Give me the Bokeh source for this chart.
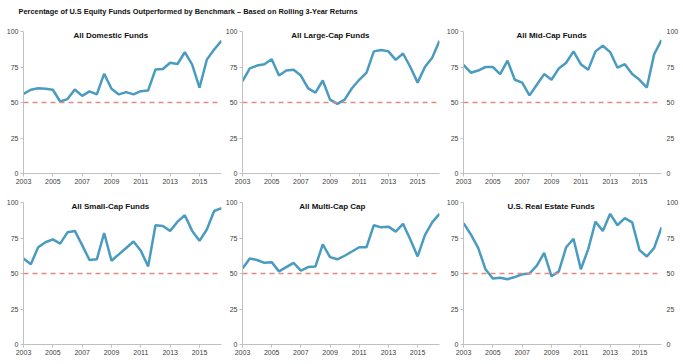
from bokeh.plotting import figure
from bokeh.layouts import column, row
from bokeh.models import Range1d, FixedTicker, Span, Label, LinearAxis
from bokeh.embed import file_html
from bokeh.resources import INLINE

main_title = "Percentage of U.S Equity Funds Outperformed by Benchmark \u2013 Based on Rolling 3-Year Returns"

periods = [2003.0, 2003.5, 2004.0, 2004.5, 2005.0, 2005.5, 2006.0, 2006.5,
           2007.0, 2007.5, 2008.0, 2008.5, 2009.0, 2009.5, 2010.0, 2010.5,
           2011.0, 2011.5, 2012.0, 2012.5, 2013.0, 2013.5, 2014.0, 2014.5,
           2015.0, 2015.5, 2016.0, 2016.5]

domestic = [56, 59, 60, 59.7, 59, 50.7, 52.4, 59.2, 54.7, 57.8, 55.7, 70.3,
            59.7, 55.7, 57.3, 55.7, 58, 58.5, 73.3, 73.6, 78, 77.1, 85.4, 76.7,
            60.4, 80.2, 87.3, 93.4]
large_cap = [65, 74, 76, 77, 80.5, 69, 72.5, 73, 69, 60, 57, 65.5,
             52, 49, 52, 60, 66, 71, 86, 87, 86, 80, 84.5, 75,
             64, 75, 81.5, 93.5]
mid_cap = [76.5, 71, 72.5, 75, 75, 70, 79.5, 66, 64, 55, 62.5, 70,
           66, 74, 78, 86, 77, 73, 86, 90, 85.5, 74.5, 77, 70,
           66, 60.5, 84, 94]
small_cap = [60.5, 56.5, 68.5, 72, 74, 71, 79, 80, 70, 59.5, 60, 78.5,
             59, 63.5, 68, 72.5, 66, 55, 84, 83.5, 80, 86.5, 91, 80,
             73, 81, 94, 96]
multi_cap = [53.5, 60.5, 59.5, 57.5, 58, 51.5, 54.5, 57.5, 52, 54.5, 55, 70.5,
             61.5, 60, 62.5, 65.5, 68.5, 68.5, 84, 82.5, 83, 79.5, 85, 74,
             62, 77, 86, 92]
real_estate = [85.5, 77.5, 68, 53, 46.5, 47, 46, 47.5, 49.5, 50, 55.5, 64.5,
               48, 51.5, 68.5, 74.5, 53, 67, 86.5, 80, 92, 84, 89, 86,
               66.5, 62, 68, 82.5]

panel_titles = ["All Domestic Funds", "All Large-Cap Funds", "All Mid-Cap Funds",
                "All Small-Cap Funds", "All Multi-Cap Cap", "U.S. Real Estate Funds"]
series = [domestic, large_cap, mid_cap, small_cap, multi_cap, real_estate]

y_ticks = [0, 25, 50, 75, 100]
x_ticks = [2003, 2005, 2007, 2009, 2011, 2013, 2015]
benchmark = 50

FONT = "Liberation Sans"
LINE_COLOR = "#4a9bc0"
DASH_COLOR = "#e08a86"
AXIS_COLOR = "#c0c0c0"
LABEL_COLOR = "#404040"

# layout constants
fig_widths = [222, 221, 238]
borders_lr = [(23, 1), (19, 4), (20, 20)]
title_offsets_px = [50, 49, 53, 48, 57, 44]
FRAME_W = 198
row_heights = [169, 174]
row_borders_tb = [(11, 16), (13, 19)]


def make_panel(i):
    r, c = divmod(i, 3)
    bl, br = borders_lr[c]
    bt, bb = row_borders_tb[r]
    p = figure(width=fig_widths[c], height=row_heights[r], output_backend="svg",
               toolbar_location=None, x_range=Range1d(periods[0], periods[-1]),
               y_range=Range1d(0, 100), min_border_left=bl, min_border_right=br,
               min_border_top=bt, min_border_bottom=bb)
    p.outline_line_color = None
    p.background_fill_color = "white"
    p.border_fill_color = "white"
    p.xgrid.visible = False
    p.ygrid.visible = False

    for ax in (p.xaxis[0], p.yaxis[0]):
        ax.axis_line_color = AXIS_COLOR
        ax.major_tick_line_color = AXIS_COLOR
        ax.minor_tick_line_color = None
        ax.major_tick_in = 0
        ax.major_tick_out = 3
        ax.major_label_standoff = 2
        ax.major_label_text_font = FONT
        ax.major_label_text_font_size = "7px"
        ax.major_label_text_color = LABEL_COLOR
    p.xaxis[0].ticker = FixedTicker(ticks=x_ticks)
    p.yaxis[0].ticker = FixedTicker(ticks=y_ticks)

    if c == 2:
        ra = LinearAxis(ticker=FixedTicker(ticks=y_ticks))
        ra.axis_line_color = None
        ra.major_tick_line_color = None
        ra.minor_tick_line_color = None
        ra.major_tick_in = 0
        ra.major_tick_out = 0
        ra.major_label_standoff = 5
        ra.major_label_text_font = FONT
        ra.major_label_text_font_size = "7px"
        ra.major_label_text_color = LABEL_COLOR
        p.add_layout(ra, "right")

    p.add_layout(Span(location=benchmark, dimension="width", line_color=DASH_COLOR,
                      line_dash="5 4", line_width=1.5))
    p.line(periods, series[i], line_color=LINE_COLOR, line_width=2.5)

    span_years = periods[-1] - periods[0]
    tx = periods[0] + title_offsets_px[i] * span_years / FRAME_W
    p.add_layout(Label(x=tx, y=97.5, text=panel_titles[i], text_font=FONT,
                       text_font_style="bold", text_font_size="8px",
                       text_color="#111111", text_baseline="middle"))
    return p


# title strip
t = figure(width=681, height=20, output_backend="svg", toolbar_location=None,
           x_range=Range1d(0, 681), y_range=Range1d(0, 20), min_border=0)
t.axis.visible = False
t.xgrid.visible = False
t.ygrid.visible = False
t.outline_line_color = None
t.add_layout(Label(x=18, y=9, text=main_title, text_font=FONT, text_font_style="bold",
                   text_font_size="7.4px", text_color="#111111", text_baseline="middle"))

panels = [make_panel(i) for i in range(6)]
layout = column(t, row(*panels[:3]), row(*panels[3:]))

open("out.html", "w").write(file_html(layout, INLINE))
